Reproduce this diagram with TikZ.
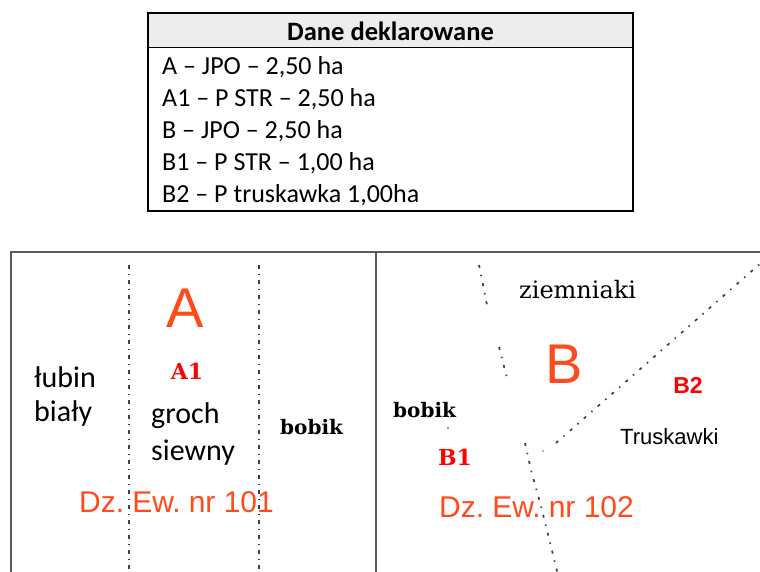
\documentclass[tikz,border=0pt]{standalone}
\usepackage{fontspec}
\setmainfont{Carlito}
\newfontfamily\arialf{Liberation Sans}
\newfontfamily\serifb{DejaVu Serif}
\definecolor{orred}{HTML}{FF4A1C}
\definecolor{framegray}{HTML}{5A5A5A}
\definecolor{headgray}{HTML}{EDEDED}
\begin{document}
\begin{tikzpicture}[x=1pt,y=-1pt,
  tabtxt/.style={anchor=west,inner sep=0pt,font=\fontsize{26}{28}\selectfont},
  cal/.style={anchor=west,inner sep=0pt,font=\fontsize{30}{32}\selectfont},
  bigred/.style={inner sep=0pt,text=orred,font=\arialf\fontsize{56}{60}\selectfont},
  dzred/.style={anchor=west,inner sep=0pt,text=orred,font=\arialf\fontsize{30}{32}\selectfont},
  redlab/.style={inner sep=0pt,text=red,font=\serifb\bfseries\fontsize{22}{24}\selectfont},
  boldser/.style={anchor=west,inner sep=0pt,font=\serifb\bfseries\fontsize{20}{22}\selectfont},
  dashdot/.style={line width=1.7pt,black!75,dash pattern=on 3.5pt off 5pt on 1.5pt off 5pt},
  sparse/.style={line width=1.7pt,black!75,dash pattern=on 3pt off 7pt on 1.5pt off 7pt},
  frame/.style={line width=2pt,framegray}]
\useasboundingbox (0,0) rectangle (760,571);
% table
\fill[headgray] (148,13) rectangle (633,47);
\draw[line width=1.8pt] (148,13) rectangle (633,211);
\draw[line width=1pt] (148,47) -- (633,47);
\node[inner sep=0pt,font=\bfseries\fontsize{26.5}{28}\selectfont] (hd) at (390.5,31) {Dane deklarowane};
\node[tabtxt] (r1) at (162,67) {A – JPO – 2,50 ha};
\node[tabtxt] (r2) at (162,99) {A1 – P STR – 2,50 ha};
\node[tabtxt] (r3) at (162,131) {B – JPO – 2,50 ha};
\node[tabtxt] (r4) at (162,163) {B1 – P STR – 1,00 ha};
\node[tabtxt] (r5) at (162,195) {B2 – P truskawka 1,00ha};
% frame
\draw[frame] (11,575) -- (11,252) -- (765,252);
\draw[frame] (376,252) -- (376,575);
% dotted lines left
\draw[dashdot] (129,265) -- (129,575);
\draw[dashdot] (259,265) -- (259,575);
% right lines
\draw[sparse] (479,265) -- (488,310);
\draw[sparse] (499,347) -- (507,378);
\fill[black!80] (448,428) circle (0.9pt);
\draw[sparse] (525,443) -- (531,470) -- (542,510) -- (558,575);
\draw[sparse] (556,443) -- (762,262);
\fill[green!70!black] (543,451) circle (0.8pt);
% texts left
\node[bigred] (A) at (185,308) {A};
\node[redlab] (A1) at (187,371) {A1};
\node[cal] (lub) at (34,377) {łubin};
\node[cal] (bia) at (34,413) {biały};
\node[cal] (gro) at (151,416) {groch};
\node[cal] (sie) at (151,453) {siewny};
\node[boldser] (bob1) at (280,427) {bobik};
\node[dzred] (dz1) at (79,502) {Dz.\hspace{-3pt} Ew.\hspace{-3pt} nr 101};
% texts right
\node[anchor=west,inner sep=0pt,font=\serifb\fontsize{24}{26}\selectfont] (zie) at (519,290) {ziemniaki};
\node[bigred] (B) at (564,364) {B};
\node[inner sep=0pt,text=red,font=\arialf\bfseries\fontsize{23}{25}\selectfont] (B2) at (688,385) {B2};
\node[boldser] (bob2) at (393,410) {bobik};
\node[redlab] (B1) at (455,457) {B1};
\node[anchor=west,inner sep=0pt,font=\arialf\fontsize{22}{24}\selectfont] (tru) at (620,437) {Truskawki};
\node[dzred] (dz2) at (439,507) {Dz.\hspace{-3pt} Ew.\hspace{-3pt} nr 102};
\end{tikzpicture}
\end{document}
